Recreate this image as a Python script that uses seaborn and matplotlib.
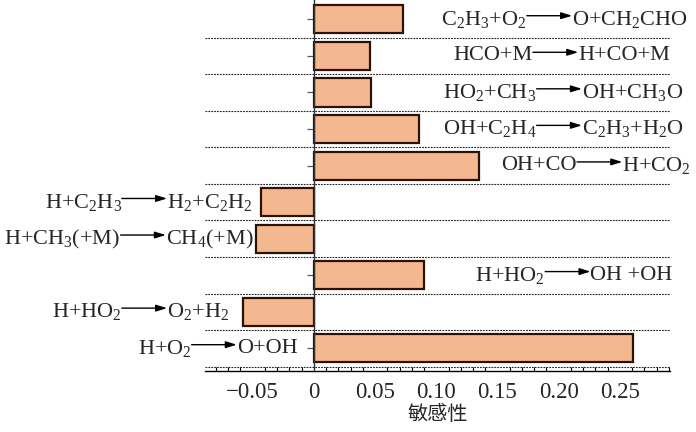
import matplotlib
matplotlib.use('Agg')
import matplotlib.pyplot as plt
import seaborn as sns
import pandas as pd
from matplotlib.ticker import FixedLocator, MultipleLocator

# reactions from top to bottom
reactants = ['C$_2$H$_3$+O$_2$', 'HCO+M', 'HO$_2$+CH$_3$', 'OH+C$_2$H$_4$', 'OH+CO',
             'H+C$_2$H$_3$', 'H+CH$_3$(+M)', 'H+HO$_2$', 'H+HO$_2$', 'H+O$_2$']
products = ['O+CH$_2$CHO', 'H+CO+M', 'OH+CH$_3$O', 'C$_2$H$_3$+H$_2$O', 'H+CO$_2$',
            'H$_2$+C$_2$H$_2$', 'CH$_4$(+M)', 'OH +OH', 'O$_2$+H$_2$', 'O+OH']
sensitivity = [0.073, 0.046, 0.047, 0.086, 0.135, -0.043, -0.047, 0.090, -0.058, 0.261]
# where the arrow of each label starts (x in sensitivity units)
arrow_start = [0.174, 0.179, 0.182, 0.182, 0.215, -0.157, -0.158, 0.189, -0.157, -0.100]
arrow_len = 0.037

xticks = [-0.05, 0, 0.05, 0.10, 0.15, 0.20, 0.25]
xticklabels = ['\u22120.05', '0', '0.05', '0.10', '0.15', '0.20', '0.25']

sns.set_theme(style='white')
plt.rcParams['font.family'] = ['Liberation Serif', 'DejaVu Serif']
plt.rcParams['mathtext.fontset'] = 'custom'
plt.rcParams['mathtext.rm'] = 'Liberation Serif'
plt.rcParams['mathtext.it'] = 'Liberation Serif:italic'
plt.rcParams['mathtext.default'] = 'rm'

df = pd.DataFrame({'reaction': [r + '->' + p for r, p in zip(reactants, products)],
                   'sens': sensitivity})

fig = plt.figure(figsize=(6.96, 4.32), dpi=100)
ax = fig.add_axes([205 / 696, 1 - 371 / 432, (670 - 205) / 696, 371 / 432])

sns.barplot(data=df, x='sens', y='reaction', orient='h', color='#F4B891', saturation=1,
            edgecolor='#2B1205', linewidth=1.6, width=0.77, ax=ax)

ax.set_xlim(-0.089, 0.291)
ax.set_ylim(9.62, -0.53)

# dotted separators between reactions
for k in range(len(sensitivity)):
    ax.axhline(k + 0.5, color='#222222', lw=0.8, ls=(0, (1.6, 1.0)), zorder=0)

for sp in ['top', 'right']:
    ax.spines[sp].set_visible(False)
ax.spines['left'].set_position(('data', 0))
ax.spines['left'].set_color('#333333')
ax.spines['left'].set_linewidth(1.0)
ax.spines['bottom'].set_color('black')
ax.spines['bottom'].set_linewidth(1.0)

ax.xaxis.set_major_locator(FixedLocator(xticks))
ax.set_xticklabels(xticklabels, fontsize=16.5)
ax.xaxis.set_minor_locator(MultipleLocator(0.01))
ax.tick_params(axis='x', which='major', direction='in', length=5, width=0.9, color='black', pad=8)
ax.tick_params(axis='x', which='minor', direction='in', length=3, width=0.8, color='black', bottom=True)
ax.tick_params(axis='y', direction='out', length=5, width=0.9, color='#555555', left=True, labelleft=False)
ax.set_ylabel('')
ax.set_xlabel('敏感性', family=['Noto Sans CJK SC', 'DejaVu Sans'], fontsize=14.5, labelpad=1)

# reaction labels with arrows
for i, (r, p, s) in enumerate(zip(reactants, products, arrow_start)):
    ax.text(s, i - 0.07, r, ha='right', va='center_baseline', fontsize=16, clip_on=False)
    ax.text(s + arrow_len, i - 0.07, p, ha='left', va='center_baseline', fontsize=16, clip_on=False)
    ax.annotate('', xy=(s + arrow_len, i - 0.1), xytext=(s, i - 0.1),
                arrowprops=dict(arrowstyle='-|>,head_length=0.65,head_width=0.2', color='black',
                                lw=1.0, shrinkA=0, shrinkB=0, mutation_scale=10),
                annotation_clip=False)

fig.savefig('out.png', dpi=100)
